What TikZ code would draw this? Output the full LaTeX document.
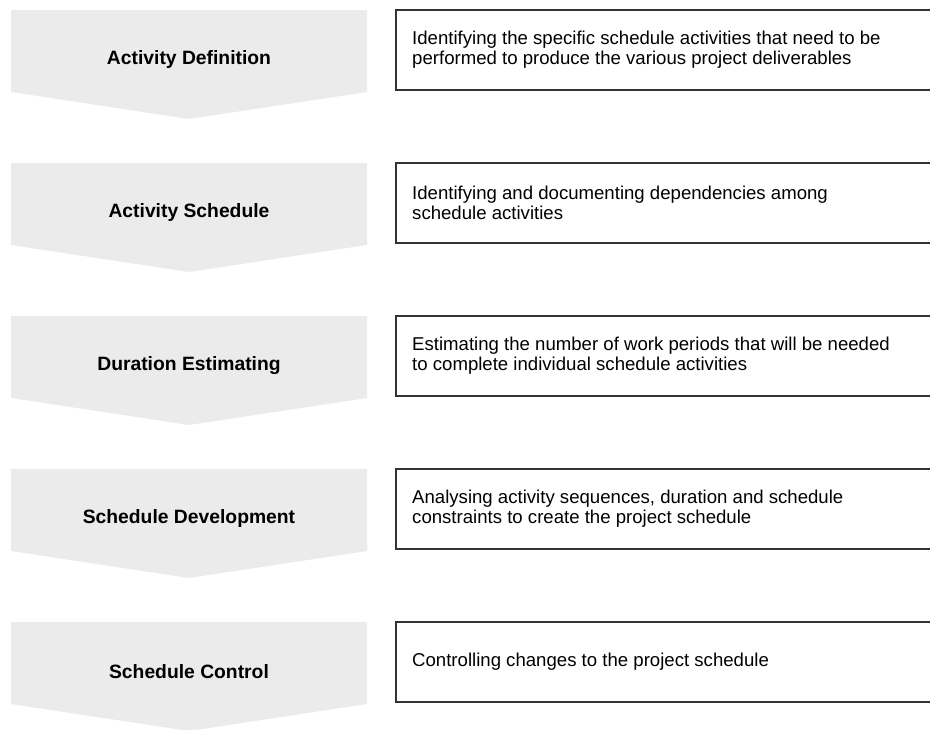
\documentclass[tikz,border=0pt]{standalone}
\usepackage{fontspec}
\setmainfont{Liberation Sans}
\definecolor{chevgray}{HTML}{EBEBEB}
\definecolor{boxline}{HTML}{333333}
\begin{document}
\begin{tikzpicture}[x=1pt,y=-1pt,
  chev/.style={fill=chevgray,draw=none},
  lab/.style={font=\bfseries\fontsize{19.3}{22}\selectfont, inner sep=0pt},
  descbox/.style={draw=boxline, line width=1.2pt, fill=white},
  desc/.style={font=\fontsize{18.6}{20}\selectfont, align=left, anchor=west, inner sep=0pt}]
\useasboundingbox (0,0) rectangle (930,729);
\clip (0,0) rectangle (930,729);
\newcommand{\steprow}[4]{%
  \fill[chev] (11,#2) -- (367,#2) -- (367,#2+82) -- (189,#2+109) -- (11,#2+82) -- cycle;
  \node[lab] (lab#1) at (189,#2+50) {#3};
  \draw[descbox] (396,#2) rectangle (945,#2+80);
  \node[desc] (desc#1) at (412,#2+40) {#4};
}
\steprow{1}{10}{Activity Definition}{Identifying the specific schedule activities that need to be\\performed to produce the various project deliverables}
\steprow{2}{163}{Activity Schedule}{Identifying and documenting dependencies among\\schedule activities}
\steprow{3}{316}{Duration Estimating}{Estimating the number of work periods that will be needed\\to complete individual schedule activities}
\steprow{4}{469}{Schedule Development}{Analysing activity sequences, duration and schedule\\constraints to create the project schedule}
\steprow{5}{622}{Schedule Control}{Controlling changes to the project schedule}
\end{tikzpicture}
\end{document}
